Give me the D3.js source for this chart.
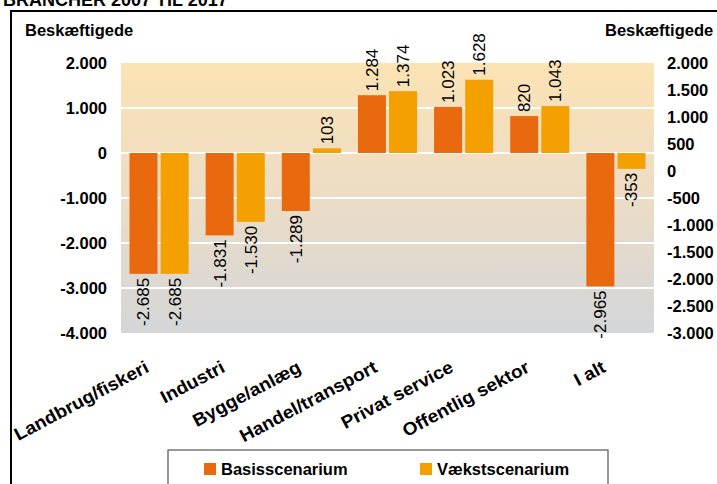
<!DOCTYPE html>
<html>
<head>
    <meta charset="utf-8">
    <title>Beskæftigede brancher 2007 til 2017</title>
    <script src="https://d3js.org/d3.v7.min.js"></script>
    <style>
        body { margin: 0; background: white; }
        text { font-family: Arial, "Liberation Sans", sans-serif; fill: #000; }
    </style>
</head>
<body>
    <div id="chart"></div>

    <script>
        // Data
        const categories = ["Landbrug/fiskeri", "Industri", "Bygge/anlæg", "Handel/transport",
                            "Privat service", "Offentlig sektor", "I alt"];
        const seriesNames = ["Basisscenarium", "Vækstscenarium"];
        const basis = [-2685, -1831, -1289, 1284, 1023, 820, -2965];
        const vaekst = [-2685, -1530, 103, 1374, 1628, 1043, -353];
        const leftTicks = [2000, 1000, 0, -1000, -2000, -3000, -4000];
        const rightTicks = [2000, 1500, 1000, 500, 0, -500, -1000, -1500, -2000, -2500, -3000];

        const colors = ["#E9690E", "#F4A000"];

        // Danish number format: 1.000
        const dk = d3.formatLocale({ decimal: ",", thousands: ".", grouping: [3], currency: ["", " kr"], minus: "-" });
        const fmt = dk.format(",d");

        const width = 717, height = 484;
        const plot = { left: 121, right: 654, top: 63, bottom: 333 };

        const svg = d3.select("#chart")
            .append("svg")
            .attr("width", width)
            .attr("height", height);

        // Title (cut off at the top edge, as in the source)
        svg.append("text")
            .attr("x", 3)
            .attr("y", 5.5)
            .style("font-size", "18px")
            .style("font-weight", "bold")
            .text("BRANCHER 2007 TIL 2017");

        // Frame
        svg.append("path")
            .attr("d", `M11,${height} V11 H${width}`)
            .attr("fill", "none")
            .attr("stroke", "#000")
            .attr("stroke-width", 2);

        // Scales
        const y = d3.scaleLinear().domain([-4000, 2000]).range([plot.bottom, plot.top]);
        const yRight = d3.scaleLinear().domain([-3000, 2000]).range([plot.bottom, plot.top]);

        const x0 = d3.scaleBand()
            .domain(categories)
            .range([plot.left, plot.right])
            .padding(0);

        const x1 = d3.scaleBand()
            .domain(seriesNames)
            .range([8.5, x0.bandwidth() - 8.5])
            .paddingInner(0.1);

        // Plot background gradient
        const defs = svg.append("defs");
        const grad = defs.append("linearGradient")
            .attr("id", "bg")
            .attr("x1", 0).attr("y1", 0)
            .attr("x2", 0).attr("y2", 1);
        grad.append("stop").attr("offset", "0%").attr("stop-color", "#FCE3B4");
        grad.append("stop").attr("offset", "45%").attr("stop-color", "#EEDDC4");
        grad.append("stop").attr("offset", "100%").attr("stop-color", "#D4D6D8");

        svg.append("rect")
            .attr("x", plot.left)
            .attr("y", plot.top)
            .attr("width", plot.right - plot.left)
            .attr("height", plot.bottom - plot.top)
            .attr("fill", "url(#bg)");

        // Gridlines
        svg.append("g")
            .selectAll("line")
            .data(leftTicks.filter(d => d < 2000 && d > -4000))
            .enter()
            .append("line")
            .attr("x1", plot.left)
            .attr("x2", plot.right)
            .attr("y1", d => y(d))
            .attr("y2", d => y(d))
            .attr("stroke", "white")
            .attr("stroke-width", 2);

        // Left axis labels
        svg.append("g")
            .selectAll("text")
            .data(leftTicks)
            .enter()
            .append("text")
            .attr("x", 107)
            .attr("y", d => y(d))
            .attr("dy", "0.35em")
            .attr("text-anchor", "end")
            .style("font-size", "16.5px")
            .style("font-weight", "bold")
            .text(d => fmt(d));

        // Right axis labels
        svg.append("g")
            .selectAll("text")
            .data(rightTicks)
            .enter()
            .append("text")
            .attr("x", 667)
            .attr("y", d => yRight(d))
            .attr("dy", "0.35em")
            .attr("text-anchor", "start")
            .style("font-size", "16.5px")
            .style("font-weight", "bold")
            .text(d => fmt(d));

        // Axis titles
        svg.append("text")
            .attr("x", 25).attr("y", 36)
            .style("font-size", "16.5px").style("font-weight", "bold")
            .text("Beskæftigede");
        svg.append("text")
            .attr("x", 605).attr("y", 36)
            .style("font-size", "16.5px").style("font-weight", "bold")
            .text("Beskæftigede");

        // Bars
        const rows = categories.map((c, i) => ({
            category: c,
            values: [
                { series: seriesNames[0], value: basis[i] },
                { series: seriesNames[1], value: vaekst[i] }
            ]
        }));
        const color = d3.scaleOrdinal().domain(seriesNames).range(colors);

        const groups = svg.append("g")
            .selectAll("g")
            .data(rows)
            .enter()
            .append("g")
            .attr("transform", d => `translate(${x0(d.category)},0)`);

        groups.selectAll("rect")
            .data(d => d.values)
            .enter()
            .append("rect")
            .attr("x", d => x1(d.series))
            .attr("width", x1.bandwidth())
            .attr("y", d => y(Math.max(0, d.value)))
            .attr("height", d => Math.abs(y(d.value) - y(0)))
            .attr("fill", d => color(d.series));

        // Value labels, rotated
        groups.selectAll("text")
            .data(d => d.values)
            .enter()
            .append("text")
            .attr("transform", d => {
                const cx = x1(d.series) + x1.bandwidth() / 2;
                const cy = d.value >= 0 ? y(d.value) - 4 : y(d.value) + 4;
                return `translate(${cx},${cy}) rotate(-90)`;
            })
            .attr("dy", "0.35em")
            .attr("text-anchor", d => d.value >= 0 ? "start" : "end")
            .style("font-size", "17px")
            .text(d => fmt(d.value));

        // Category labels, tilted (slightly wide lettering, like the source)
        svg.append("g")
            .selectAll("text")
            .data(categories)
            .enter()
            .append("text")
            .attr("transform", d => `translate(${x0(d) + x0.bandwidth() / 2 - 9},371) rotate(-28) scale(1.06,1)`)
            .attr("text-anchor", "end")
            .style("font-size", "18px")
            .style("font-weight", "bold")
            .text(d => d);

        // Legend
        const legend = svg.append("g");
        legend.append("rect")
            .attr("x", 168).attr("y", 450)
            .attr("width", 440).attr("height", 45)
            .attr("fill", "white")
            .attr("stroke", "#555")
            .attr("stroke-width", 1.2);

        const legendX = d3.scaleOrdinal().domain(seriesNames).range([204, 420]);
        const items = legend.selectAll(".legend-item")
            .data(seriesNames)
            .enter()
            .append("g")
            .attr("class", "legend-item")
            .attr("transform", d => `translate(${legendX(d)},463)`);
        items.append("rect")
            .attr("width", 12).attr("height", 12)
            .attr("fill", d => color(d));
        items.append("text")
            .attr("x", 17).attr("y", 6)
            .attr("dy", "0.35em")
            .style("font-size", "16.5px")
            .style("font-weight", "bold")
            .text(d => d);
    </script>
</body>
</html>
